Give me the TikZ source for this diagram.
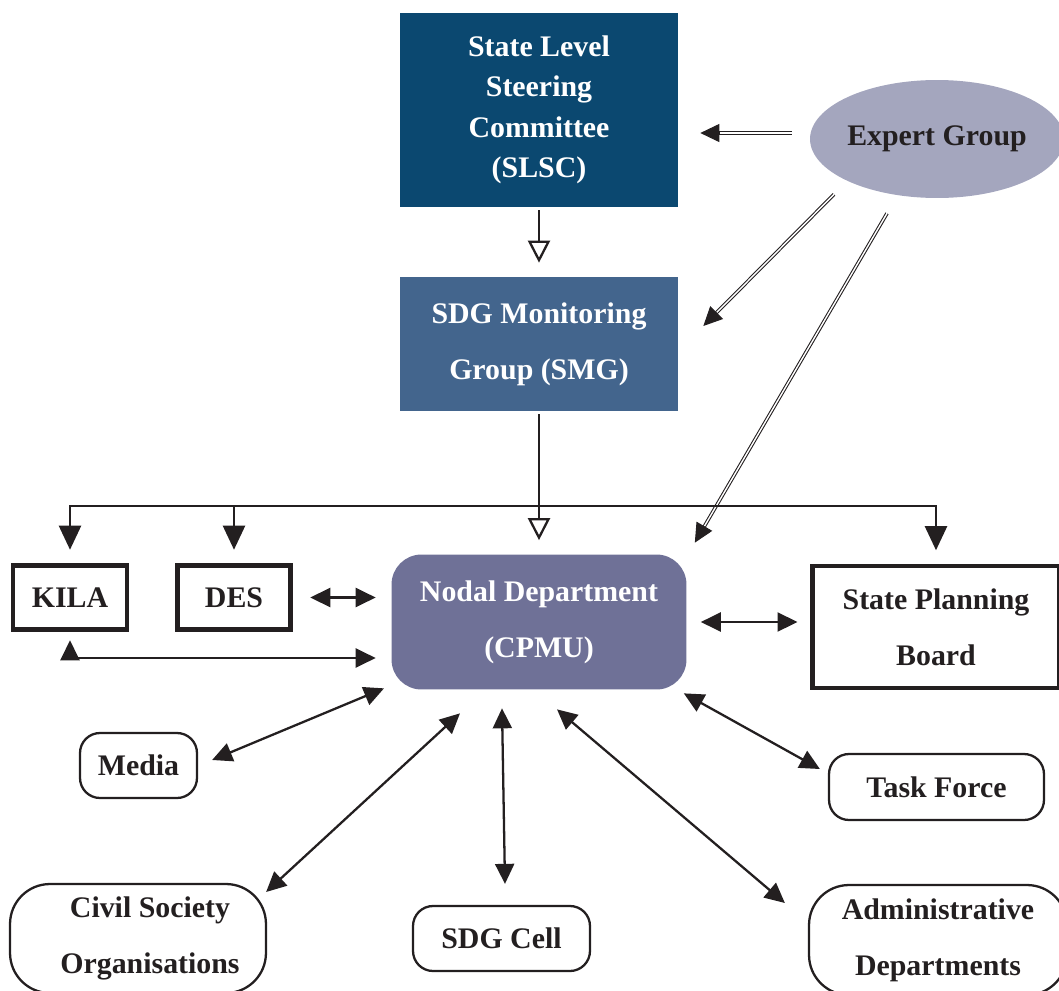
\documentclass[tikz,border=0pt]{standalone}
\usepackage{fontspec}
\setmainfont{Liberation Serif}
\usetikzlibrary{arrows.meta,calc,shapes.geometric}
\definecolor{slscblue}{RGB}{11,72,112}
\definecolor{smgblue}{RGB}{67,101,141}
\definecolor{nodalpurple}{RGB}{111,113,151}
\definecolor{expertgrey}{RGB}{164,166,190}
\definecolor{inkdark}{RGB}{35,31,32}
\begin{document}
\begin{tikzpicture}[
        x=0.02cm, y=-0.02cm,
        every node/.style = {align=center, text=inkdark, font=\bfseries\fontsize{17}{23}\selectfont},
        topbox/.style = {rectangle, text=white, minimum width=5.56cm},
        thickbox/.style = {rectangle, draw=inkdark, line width=2.6pt},
        roundbox/.style = {rectangle, rounded corners=0.4cm, draw=inkdark, line width=1.3pt},
        link/.style = {draw=inkdark, line width=1.3pt},
        both/.style = {link, {Triangle[length=0.4cm,width=0.38cm]}-{Triangle[length=0.4cm,width=0.38cm]}},
        down/.style = {link, -{Triangle[length=0.48cm,width=0.44cm]}},
        hollow/.style = {link, -{Triangle[open,length=0.44cm,width=0.44cm,fill=white]}},
        dbl/.style = {draw=inkdark, double=white, double distance=0.8pt, line width=0.6pt},
        tip/.style = {draw=inkdark, line width=0.6pt, -{Triangle[length=0.38cm,width=0.36cm]}}
        ]
    \useasboundingbox (0,0) rectangle (1059,991);

    % upper chain
    \node[topbox, fill=slscblue, minimum height=3.88cm] (slsc) at (539,110) {State Level\\Steering\\Committee\\(SLSC)};
    \node[ellipse, fill=expertgrey, inner sep=0pt, minimum width=5.08cm, minimum height=2.36cm] (eg) at (937,139) {Expert Group};
    \node[topbox, fill=smgblue, minimum height=2.68cm] (smg) at (539,344) {SDG Monitoring\\[9pt]Group (SMG)};
    \node[rectangle, rounded corners=0.6cm, fill=nodalpurple, text=white,
          minimum width=5.9cm, minimum height=2.7cm] (nodal) at (539,622) {Nodal Department\\[9pt](CPMU)};

    % boxes fed by the bus
    \node[thickbox, minimum width=2.28cm, minimum height=1.28cm] (kila) at (70,597.5) {KILA};
    \node[thickbox, minimum width=2.26cm, minimum height=1.28cm] (des) at (234,597.5) {DES};
    \node[thickbox, minimum width=4.95cm, minimum height=2.44cm] (spb) at (936,627) {State Planning\\[9pt]Board};

    % outer partners
    \node[roundbox, minimum width=2.34cm, minimum height=1.3cm] (media) at (138.5,765.5) {Media};
    \node[roundbox, minimum width=4.3cm, minimum height=1.32cm] (tf) at (936.5,787) {Task Force};
    \node[roundbox, minimum width=3.54cm, minimum height=1.3cm] (cell) at (501.5,938.5) {SDG Cell};
    \node[roundbox, rounded corners=0.8cm, minimum width=5.12cm, minimum height=2.18cm] (cso) at (138,938.5)
        {\hspace*{0.48cm}Civil Society\\[9pt]\hspace*{0.48cm}Organisations};
    \node[roundbox, rounded corners=0.8cm, minimum width=5.16cm, minimum height=2.2cm] (admin) at (938,940) {Administrative\\[9pt]Departments};

    % expert group links
    \coordinate (e1) at ($(eg.west)+(-18,-6)$);
    \coordinate (s1) at ($(slsc.east)+(22,23)$);
    \coordinate (e2) at ($(eg.south)+(-103,-4)$);
    \coordinate (s2) at ($(smg.east)+(25,-18)$);
    \coordinate (e3) at ($(eg.south)+(-50,15)$);
    \coordinate (s3) at ($(nodal.north east)+(8,-11.5)$);
    \draw[dbl, shorten >=0.32cm] (e1) -- (s1);
    \draw[tip] ($(s1)!0.38cm!(e1)$) -- (s1);
    \draw[dbl, shorten >=0.32cm] (e2) -- (s2);
    \draw[tip] ($(s2)!0.38cm!(e2)$) -- (s2);
    \draw[dbl, shorten >=0.32cm] (e3) -- (s3);
    \draw[tip] ($(s3)!0.38cm!(e3)$) -- (s3);

    \draw[hollow, shorten <=0.06cm, shorten >=0.28cm] (slsc) -- (smg);
    \draw[hollow, shorten <=0.06cm, shorten >=0.28cm] (smg) -- (nodal);

    % bus
    \coordinate (bus) at (539,506);
    \draw[down, shorten >=0.27cm] (bus) -| (kila);
    \draw[down, shorten >=0.27cm] (bus) -| (des);
    \draw[down, shorten >=0.27cm] (bus) -| (spb);

    \draw[both, shorten <=0.35cm, shorten >=0.31cm] (des.east) -- (des.east -| nodal.west);
    \draw[both, shorten <=0.17cm, shorten >=0.31cm] (kila.south) |- ([yshift=-0.72cm]nodal.west);
    \draw[both, shorten <=0.28cm, shorten >=0.25cm] (nodal.east) -- (nodal.east -| spb.west);

    \draw[both] ($(nodal.south)+(-155,-1.5)$) -- ($(media.east)+(14,-5.5)$);
    \draw[both] ($(nodal.south)+(-79,23.5)$) -- ($(cso.east)+(-1,-46.5)$);
    \draw[both] ($(nodal.south)+(-37,18.5)$) -- ($(cell.north)+(3.5,-21)$);
    \draw[both] ($(nodal.south)+(18,19.5)$) -- ($(admin.west)+(-23,-37)$);
    \draw[both] ($(nodal.south east)+(-3,3.5)$) -- ($(tf.west)+(-8,-18)$);
\end{tikzpicture}
\end{document}
